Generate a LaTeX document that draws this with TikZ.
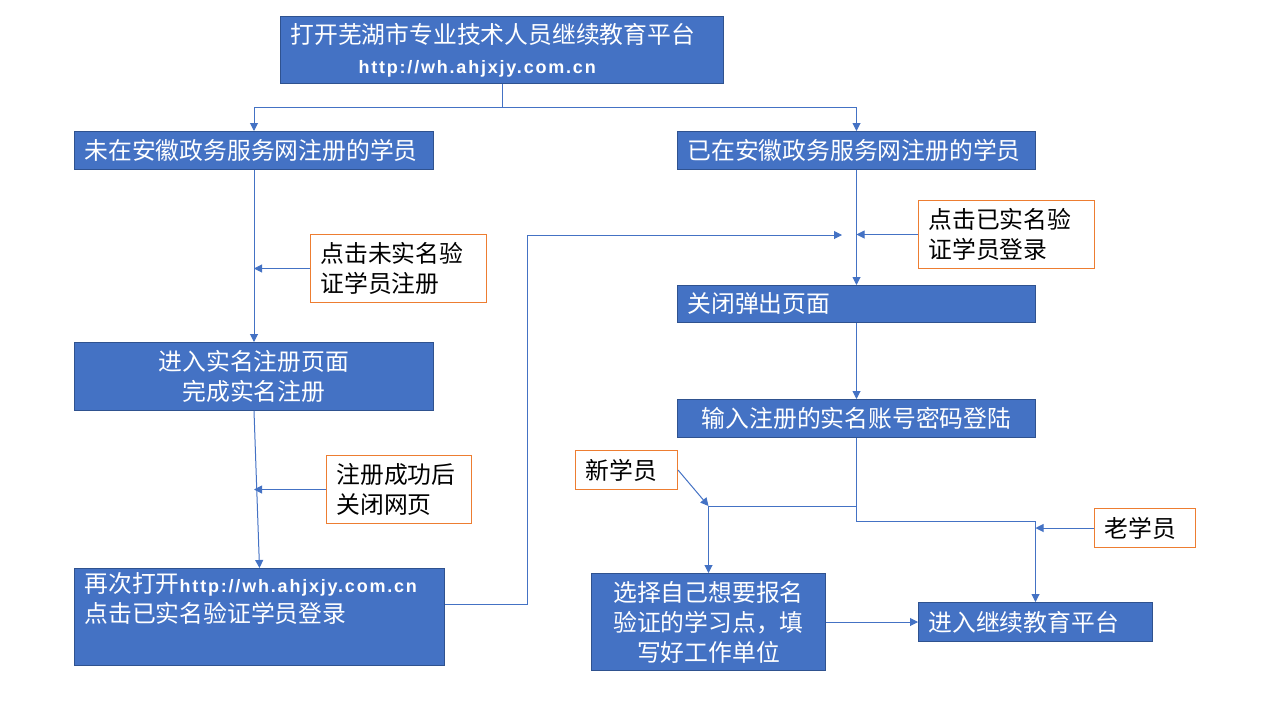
\documentclass[tikz,border=0pt]{standalone}
\usepackage{fontspec}
\setmainfont{Noto Sans CJK SC}
\newfontfamily\urlfont[LetterSpace=10]{Liberation Sans}
\usetikzlibrary{arrows.meta}
\definecolor{boxblue}{HTML}{4472C4}
\definecolor{boxedge}{HTML}{2F528F}
\definecolor{noteedge}{HTML}{ED7D31}
\newcommand{\siteurl}{{\urlfont\bfseries\fontsize{18}{20}\selectfont http://wh.ahjxjy.com.cn}}

\begin{document}
\begin{tikzpicture}[
x=1pt,y=-1pt,
bluebox/.style={draw=boxedge,line width=1pt,fill=boxblue,text=white,anchor=north west,inner xsep=10pt,inner ysep=0pt,font=\fontsize{23.8}{30}\selectfont},
notebox/.style={draw=noteedge,line width=1pt,fill=white,text=black,anchor=north west,inner xsep=10pt,inner ysep=0pt,align=left,font=\fontsize{23.8}{30}\selectfont},
link/.style={draw=boxblue,line width=1pt,-{Triangle[length=8pt,width=8pt]}}
]
\useasboundingbox (0,0) rectangle (1280,720);
% boxes
\node[bluebox,minimum width=443pt,minimum height=67pt,text width=423pt,align=left] (top) at (280,16)
  {打开芜湖市专业技术人员继续教育平台\\\hspace*{68pt}\siteurl};
\node[bluebox,minimum width=359pt,minimum height=38pt,text width=339pt,align=left] (unreg) at (74,131) {未在安徽政务服务网注册的学员};
\node[bluebox,minimum width=358pt,minimum height=38pt,text width=338pt,align=left] (reg) at (677,131) {已在安徽政务服务网注册的学员};
\node[notebox,minimum width=176pt,minimum height=68pt,text width=156pt] (loginnote) at (918,200) {点击已实名验\\证学员登录};
\node[notebox,minimum width=176pt,minimum height=68pt,text width=156pt] (signnote) at (310,234) {点击未实名验\\证学员注册};
\node[bluebox,minimum width=358pt,minimum height=37pt,text width=338pt,align=left] (closepop) at (677,285) {关闭弹出页面};
\node[bluebox,minimum width=359pt,minimum height=68pt,text width=339pt,align=center] (realname) at (74,342) {进入实名注册页面\\完成实名注册};
\node[bluebox,minimum width=358pt,minimum height=38pt,text width=338pt,align=center] (login) at (677,399) {输入注册的实名账号密码登陆};
\node[notebox,minimum width=145pt,minimum height=68pt,text width=125pt] (donenote) at (326,455) {注册成功后\\关闭网页};
\node[notebox,minimum width=102pt,minimum height=39pt,text width=82pt] (newnote) at (575,450) {新学员};
\node[notebox,minimum width=101pt,minimum height=39pt,text width=81pt] (oldnote) at (1094,508) {老学员};
\node[bluebox,minimum width=370pt,minimum height=97pt,text width=350pt,align=left] (reopen) at (74,568)
  {再次打开\siteurl\\点击已实名验证学员登录\\\strut};
\node[bluebox,minimum width=234pt,minimum height=97pt,text width=214pt,align=center] (select) at (591,573)
  {选择自己想要报名\\验证的学习点，填\\写好工作单位};
\node[bluebox,minimum width=234pt,minimum height=39pt,text width=214pt,align=left] (enter) at (918,602) {进入继续教育平台};
\coordinate (meetL) at (842,235);
% connectors
\draw[link] (top.south) -- ++(0,23) -| (unreg.north);
\draw[link] (top.south) -- ++(0,23) -| (reg.north);
\draw[link] (unreg.south) -- (realname.north);
\draw[link] (signnote.west) -- (signnote.west -| unreg.south);
\draw[link] (realname.south) -- (reopen.north);
\draw[link] (donenote.west) -- (donenote.west -| realname.south);
\draw[link] ([yshift=13pt]reopen.east) -- ++(82,0) |- (meetL);
\draw[link] (reg.south) -- (closepop.north);
\draw[link] (loginnote.west) -- (loginnote.west -| reg.south);
\draw[link] (closepop.south) -- (login.north);
\draw[link] (login.south) -- ++(0,68) coordinate (fork) -| (select.north);
\draw[link] (login.south) -- ++(0,83) -| (enter.north);
\draw[link] (newnote.east) -- (fork -| select.north);
\draw[link] (oldnote.west) -- (oldnote.west -| enter.north);
\draw[link] (select.east) -- (enter.west);
\end{tikzpicture}
\end{document}
